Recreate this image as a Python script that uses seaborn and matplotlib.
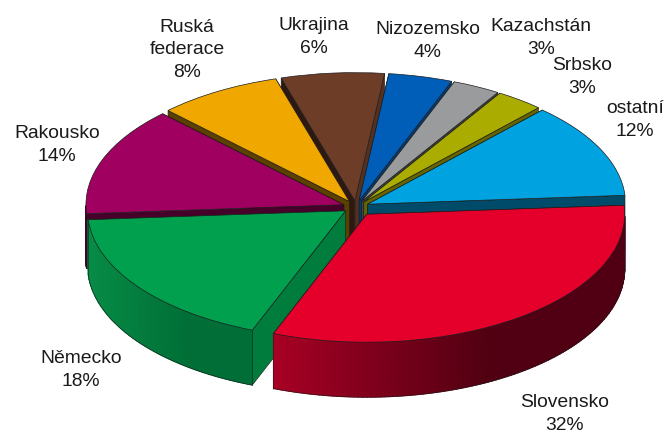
import numpy as np
import matplotlib
matplotlib.use("Agg")
import matplotlib.pyplot as plt
from matplotlib.colors import LinearSegmentedColormap
import seaborn as sns

countries = ["Slovensko", "Německo", "Rakousko", "Ruská\nfederace", "Ukrajina",
             "Nizozemsko", "Kazachstán", "Srbsko", "ostatní"]
shares = [32.0, 18.0, 13.7, 7.8, 6.45, 4.0, 3.0, 3.0, 12.05]
pull = [0.07, 0.05, 0.05, 0.05, 0.05, 0.05, 0.05, 0.05, 0.05]
top_colors = ["#E4002B", "#00A04F", "#A0005F", "#F0A800", "#6E3D28",
              "#005EB8", "#9A9B9C", "#AAAD00", "#00A3E0"]
wall_low = ["#8A0020", "#007A3C", "#46002A", "#5A4100", "#55301F",
            "#003C78", "#444444", "#646400", "#004B69"]
wall_high = ["#8A0020", "#007D3C", "#46002A", "#5A4100", "#2D1912",
             "#00305C", "#444444", "#5E5E00", "#004B69"]
grad_start = ["#A80024", "#078C46", "#46002A", "#5A4100", "#55301F",
              "#003C78", "#444444", "#646400", "#004B69"]
grad_end = ["#500012", "#006E36", "#46002A", "#5A4100", "#55301F",
            "#003C78", "#444444", "#646400", "#004B69"]
label_centers = [(565, 414), (81, 370), (57, 145), (187, 50), (314, 37),
                 (428, 41), (541, 38), (582, 77), (635, 120)]

W, H = 672, 434
CX, CY, RX, RY, DEPTH = 356, 207, 258, 128, 55
EDGE = "#1c1c1c"

sns.set_theme(style="white")
plt.rcParams["font.family"] = ["Liberation Sans", "DejaVu Sans"]

fig = plt.figure(figsize=(W / 100, H / 100), dpi=100)
ax = fig.add_axes([0, 0, 1, 1])
wedges, _ = ax.pie(shares, explode=pull, colors=sns.color_palette(top_colors),
                   startangle=4, counterclock=False, radius=1,
                   wedgeprops=dict(edgecolor=EDGE, linewidth=0.5))
ax.set_aspect("auto")
ax.set_xlim(-CX / RX, (W - CX) / RX)
ax.set_ylim((CY - H) / RY, CY / RY)
ax.axis("off")
d = DEPTH / RY


def edge_point(w, t):
    a = np.radians(t)
    return w.center[0] + np.cos(a), w.center[1] + np.sin(a)


for i, w in enumerate(wedges):
    mid = np.radians((w.theta1 + w.theta2) / 2)
    z = 2 - np.sin(mid)
    w.set_zorder(z + 0.2)
    cx, cy = w.center
    right_side = np.cos(mid) > 0
    for t, col, dz in ((w.theta1, wall_low[i], 0.02 if right_side else 0.0),
                       (w.theta2, wall_high[i], 0.0 if right_side else 0.02)):
        x, y = edge_point(w, t)
        ax.fill([cx, x, x, cx], [cy, y, y - d, cy - d], facecolor=col,
                edgecolor=EDGE, linewidth=0.4, zorder=z + dz)
    # outer wall, only where it faces the viewer
    ts = np.linspace(w.theta1, w.theta2, 120)
    ts = ts[np.sin(np.radians(ts)) <= 0]
    if len(ts) > 1:
        xs = cx + np.cos(np.radians(ts))
        ys = cy + np.sin(np.radians(ts))
        X = np.vstack([xs, xs])
        Y = np.vstack([ys, ys - d])
        span = max(xs.max() - xs.min(), 1e-6)
        C = np.clip((X - xs.min()) / (0.62 * span), 0, 1)
        cmap = LinearSegmentedColormap.from_list("wall", [grad_start[i], grad_end[i]])
        ax.pcolormesh(X, Y, C, shading="gouraud", cmap=cmap, vmin=0, vmax=1,
                      zorder=z + 0.1)
        ax.plot(xs, ys - d, color=EDGE, lw=0.4, zorder=z + 0.12)
        ax.plot([xs[0], xs[0]], [ys[0], ys[0] - d], color=EDGE, lw=0.4, zorder=z + 0.12)
        ax.plot([xs[-1], xs[-1]], [ys[-1], ys[-1] - d], color=EDGE, lw=0.4, zorder=z + 0.12)

ax.set_xlim(-CX / RX, (W - CX) / RX)
ax.set_ylim((CY - H) / RY, CY / RY)

for name, share, (px, py) in zip(countries, shares, label_centers):
    ax.text(px / W, 1 - py / H, f"{name}\n{share:.0f}%", transform=ax.transAxes,
            ha="center", va="center", fontsize=13.9, color="#1a1a1a",
            linespacing=1.42, zorder=20)

fig.savefig("out.png", dpi=100)
